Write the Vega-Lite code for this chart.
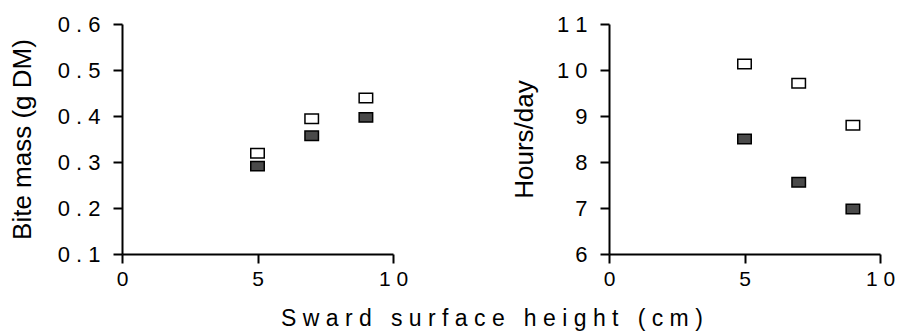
{
  "$schema": "https://vega.github.io/schema/vega-lite/v6.json",
  "background": "white",
  "padding": {"left": 9, "top": 13, "right": 0, "bottom": 2},
  "datasets": {
    "pts": [
      {"panel": "bite", "height": 5, "value": 0.319, "treatment": "open"},
      {"panel": "bite", "height": 7, "value": 0.394, "treatment": "open"},
      {"panel": "bite", "height": 9, "value": 0.439, "treatment": "open"},
      {"panel": "bite", "height": 5, "value": 0.291, "treatment": "filled"},
      {"panel": "bite", "height": 7, "value": 0.357, "treatment": "filled"},
      {"panel": "bite", "height": 9, "value": 0.397, "treatment": "filled"},
      {"panel": "hours", "height": 5, "value": 10.13, "treatment": "open"},
      {"panel": "hours", "height": 7, "value": 9.71, "treatment": "open"},
      {"panel": "hours", "height": 9, "value": 8.8, "treatment": "open"},
      {"panel": "hours", "height": 5, "value": 8.5, "treatment": "filled"},
      {"panel": "hours", "height": 7, "value": 7.56, "treatment": "filled"},
      {"panel": "hours", "height": 9, "value": 6.98, "treatment": "filled"}
    ]
  },
  "config": {
    "font": "Liberation Sans",
    "view": {"stroke": null},
    "concat": {"spacing": 103},
    "axis": {
      "grid": false,
      "domainColor": "black",
      "domainWidth": 2,
      "tickColor": "black",
      "tickWidth": 2,
      "tickSize": 9,
      "labelColor": "black",
      "labelFont": "Liberation Sans",
      "labelFontSize": 22,
      "labelFlush": false,
      "labelOverlap": false,
      "titleColor": "black",
      "titleFont": "Liberation Sans",
      "titleFontSize": 26,
      "titleFontWeight": "normal"
    }
  },
  "title": {
    "text": "S w a r d \u00a0 s u r f a c e \u00a0 h e i g h t \u00a0 ( c m )",
    "orient": "bottom",
    "anchor": "middle",
    "fontSize": 23,
    "fontWeight": "normal",
    "font": "Liberation Sans",
    "color": "black",
    "offset": 19,
    "dx": 40
  },
  "hconcat": [
    {
      "width": 271,
      "height": 230,
      "data": {"name": "pts"},
      "transform": [{"filter": "datum.panel === 'bite'"}],
      "mark": {"type": "point", "shape": "M-1,-0.7H1V0.7H-1Z", "size": 182, "filled": true, "stroke": "black", "strokeWidth": 1.5, "opacity": 1},
      "encoding": {
        "x": {"field": "height", "type": "quantitative", "scale": {"domain": [0, 10], "nice": false, "zero": false}, "axis": {"title": null, "values": [0, 5, 10], "labelFontSize": 21, "labelPadding": 5, "labelExpr": "join(split(datum.label, ''), ' ')"}},
        "y": {"field": "value", "type": "quantitative", "scale": {"domain": [0.1, 0.6], "nice": false, "zero": false}, "axis": {"title": "Bite mass (g DM)", "values": [0.1, 0.2, 0.3, 0.4, 0.5, 0.6], "format": ".1f", "labelFontSize": 22, "labelPadding": 13, "titlePadding": 22, "labelExpr": "join(split(datum.label, ''), ' ')"}},
        "fill": {"field": "treatment", "type": "nominal", "scale": {"domain": ["open", "filled"], "range": ["white", "#4a4a4a"]}, "legend": null}
      }
    },
    {
      "width": 271,
      "height": 230,
      "data": {"name": "pts"},
      "transform": [{"filter": "datum.panel === 'hours'"}],
      "mark": {"type": "point", "shape": "M-1,-0.7H1V0.7H-1Z", "size": 182, "filled": true, "stroke": "black", "strokeWidth": 1.5, "opacity": 1},
      "encoding": {
        "x": {"field": "height", "type": "quantitative", "scale": {"domain": [0, 10], "nice": false, "zero": false}, "axis": {"title": null, "values": [0, 5, 10], "labelFontSize": 21, "labelPadding": 5, "labelExpr": "join(split(datum.label, ''), ' ')"}},
        "y": {"field": "value", "type": "quantitative", "scale": {"domain": [6, 11], "nice": false, "zero": false}, "axis": {"title": "Hours/day", "values": [6, 7, 8, 9, 10, 11], "format": "d", "labelFontSize": 22, "labelPadding": 13, "titlePadding": 19, "labelExpr": "join(split(datum.label, ''), ' ')"}},
        "fill": {"field": "treatment", "type": "nominal", "scale": {"domain": ["open", "filled"], "range": ["white", "#4a4a4a"]}, "legend": null}
      }
    }
  ]
}
